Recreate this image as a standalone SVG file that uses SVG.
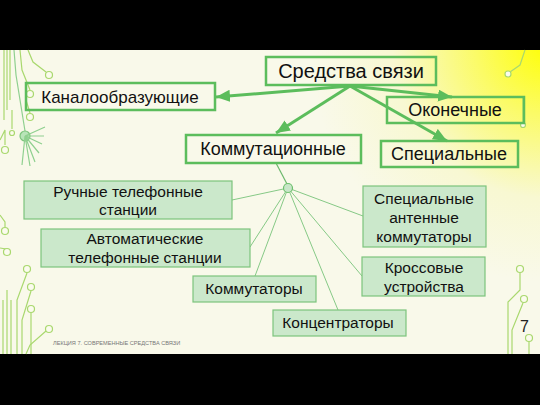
<svg xmlns="http://www.w3.org/2000/svg" width="540" height="405" viewBox="0 0 540 405">
<defs>
<radialGradient id="bg" gradientUnits="userSpaceOnUse" cx="548" cy="42" r="240">
<stop offset="0" stop-color="#ffff00"/>
<stop offset="0.3" stop-color="#fbfb66"/>
<stop offset="0.65" stop-color="#f8f8d2"/>
<stop offset="1" stop-color="#f9f9ea"/>
</radialGradient>
<marker id="ah" markerUnits="userSpaceOnUse" markerWidth="16" markerHeight="14" refX="14" refY="6" orient="auto">
<path d="M0,0 L14,6 L0,12 Z" fill="#5cbd5c"/>
</marker>
<style>
.top{fill:none;stroke:#5cbd5c;stroke-width:2.5}
.low{fill:#cbe8cb;stroke:#7cc47c;stroke-width:1.2}
.t1{font-family:"Liberation Sans",Arial,sans-serif;font-size:18px;fill:#111;text-anchor:middle}
.t2{font-family:"Liberation Sans",Arial,sans-serif;font-size:15.5px;fill:#111;text-anchor:middle}
.arr{stroke:#5cbd5c;stroke-width:3;fill:none;marker-end:url(#ah)}
.thin{stroke:#86c986;stroke-width:1;fill:none}
.dc{fill:none;stroke:#a9d86e;stroke-width:1.2}
.dg{fill:none;stroke:#8fd08f;stroke-width:1.2}
.dcc{fill:#fbfbee;stroke:#a9d86e;stroke-width:1.2}
</style>
</defs>
<rect x="0" y="0" width="540" height="405" fill="#000"/>
<rect x="0" y="50" width="540" height="304" fill="url(#bg)"/>

<g id="decor">
<path class="dc" d="M4,50 V120 M7,50 V110 M10,50 V100"/>
<path class="dg" d="M14,50 L16,75 L25,131"/>
<path class="dc" d="M20,50 L22,70 L30,90"/>
<circle class="dcc" cx="30" cy="94" r="3.5"/>
<path class="dc" d="M28,50 L33,62 L46,72"/>
<circle class="dcc" cx="49" cy="75" r="3.5"/>
<path class="dc" d="M26,100 L30,113"/>
<circle class="dcc" cx="30" cy="117" r="3.5"/>
<path class="dc" d="M0,140 L5,130 L5,145"/>
<circle class="dcc" cx="5" cy="150" r="3.5"/>
<path class="dc" d="M12,110 V129"/>
<circle class="dcc" cx="12" cy="133" r="2.5"/>
<circle cx="25" cy="136" r="5" fill="#b8e4b8" stroke="#7cc47c" stroke-width="1.2"/>
<path class="dg" d="M25,136 L45,127 M25,136 L44,136 M25,136 L42,144 M25,136 L39,153 M25,136 L35,162 M25,136 L30,166 M25,136 L22,165"/>
<path class="dc" d="M0,215 L5,222 L5,227"/>
<circle class="dcc" cx="5" cy="231" r="3.5"/>
<path class="dc" d="M0,248 L6,249"/>
<circle class="dcc" cx="7" cy="252" r="3.5"/>
<circle class="dcc" cx="27" cy="269" r="3.5"/>
<path class="dc" d="M27,273 L17,300 V354"/>
<circle class="dcc" cx="31" cy="287" r="3.5"/>
<path class="dc" d="M31,291 L22,320 V354"/>
<circle class="dcc" cx="31" cy="309" r="3.5"/>
<path class="dc" d="M31,313 V354"/>
<circle class="dcc" cx="49" cy="329" r="3.5"/>
<path class="dc" d="M46,331 L30,345 L26,354"/>
<path class="dc" d="M3,300 V354 M7,290 V354 M11,300 V354"/>
<path class="dc" d="M525,50 L520,65 L510,72"/>
<circle class="dcc" cx="508" cy="74" r="3"/>
<path class="dc" d="M523,98 V122"/>
<circle class="dcc" cx="523" cy="125" r="2.5"/>
<circle class="dcc" cx="520" cy="269" r="3.5"/>
<path class="dc" d="M520,273 V290 L508,302 V354"/>
<circle class="dcc" cx="524" cy="299" r="3.5"/>
<path class="dc" d="M523,303 L512,330 V354"/>
<circle class="dcc" cx="529" cy="338" r="3.5"/>
<path class="dc" d="M529,342 V354"/>
</g>

<g id="connectors">
<path class="arr" d="M350,86 L216,97"/>
<path class="arr" d="M350,86 L452,97"/>
<path class="arr" d="M350,86 L447,141"/>
<path class="arr" d="M350,86 L276,133"/>
<path d="M276,163 L287,184" stroke="#6cb86c" stroke-width="1.2" fill="none"/>
<path class="thin" d="M288,188 L232,200"/>
<path class="thin" d="M288,188 L250,247"/>
<path class="thin" d="M288,188 L255,276"/>
<path class="thin" d="M288,188 L338,310"/>
<path class="thin" d="M288,188 L362,276"/>
<path class="thin" d="M288,188 L363,216"/>
<circle cx="288" cy="188" r="4.5" fill="#c8e6c8" stroke="#6cbf6c" stroke-width="1.2"/>
</g>

<g id="n-sredstva"><rect class="top" x="266" y="57" width="170" height="28"/><text class="t1" x="351" y="78" style="font-size:20px">Средства связи</text></g>
<g id="n-kanal"><rect class="top" x="26" y="83" width="189" height="27"/><text class="t1" x="120" y="103" style="font-size:17px">Каналообразующие</text></g>
<g id="n-okon"><rect class="top" x="387" y="97" width="137" height="26"/><text class="t1" x="455" y="116">Оконечные</text></g>
<g id="n-spec"><rect class="top" x="381" y="141" width="137" height="26"/><text class="t1" x="449" y="160">Специальные</text></g>
<g id="n-komm"><rect class="top" x="186" y="135" width="175" height="28"/><text class="t1" x="273" y="155">Коммутационные</text></g>

<g id="n-ruch"><rect class="low" x="24" y="181" width="208" height="38"/><text class="t2" x="128" y="197">Ручные телефонные</text><text class="t2" x="128" y="215">станции</text></g>
<g id="n-avto"><rect class="low" x="41" y="229" width="209" height="38"/><text class="t2" x="145" y="244">Автоматические</text><text class="t2" x="145" y="263">телефонные станции</text></g>
<g id="n-kommutatory"><rect class="low" x="193" y="276" width="123" height="26"/><text class="t2" x="254" y="294">Коммутаторы</text></g>
<g id="n-konc"><rect class="low" x="273" y="310" width="133" height="26"/><text class="t2" x="338" y="328">Концентраторы</text></g>
<g id="n-ant"><rect class="low" x="363" y="186" width="123" height="61"/><text class="t2" x="424" y="204">Специальные</text><text class="t2" x="424" y="223">антенные</text><text class="t2" x="424" y="242">коммутаторы</text></g>
<g id="n-kross"><rect class="low" x="362" y="257" width="123" height="39"/><text class="t2" x="424" y="273">Кроссовые</text><text class="t2" x="424" y="292">устройства</text></g>

<text x="53" y="345" font-family="'Liberation Sans',Arial,sans-serif" font-size="5.6" fill="#777">ЛЕКЦИЯ 7. СОВРЕМЕННЫЕ СРЕДСТВА СВЯЗИ</text>
<text x="520" y="332" font-family="'Liberation Sans',Arial,sans-serif" font-size="16" fill="#222">7</text>
</svg>
